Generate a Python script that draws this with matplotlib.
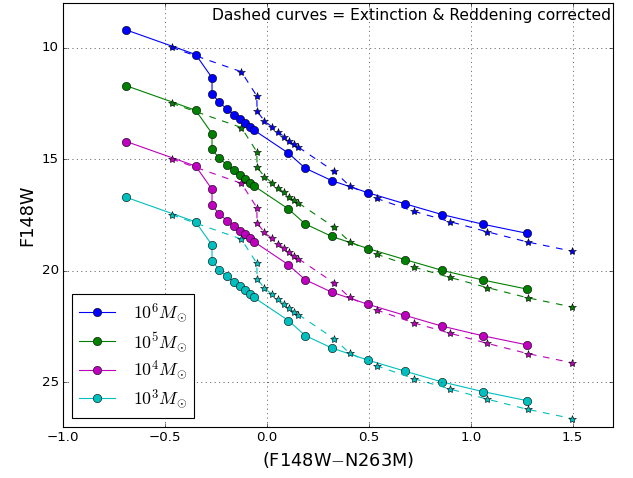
from matplotlib import pyplot as plt

plt.style.use('classic')

# colour of the isochrone points, observed and extinction/reddening corrected
color_obs = [-0.69, -0.35, -0.27, -0.27, -0.235, -0.197, -0.163, -0.134, -0.109, -0.086,
             -0.065, 0.105, 0.187, 0.318, 0.498, 0.678, 0.859, 1.058, 1.276]
color_corr = [-0.468, -0.126, -0.050, -0.049, -0.013, 0.024, 0.056, 0.083, 0.107, 0.130,
              0.154, 0.330, 0.405, 0.539, 0.719, 0.899, 1.080, 1.279, 1.497]

# F148W magnitudes for each cluster mass
mag_1e6 = [9.21, 10.31, 11.35, 12.06, 12.45, 12.75, 13.00, 13.20, 13.37, 13.55,
           13.69, 14.73, 15.40, 15.96, 16.51, 17.00, 17.48, 17.91, 18.32]
mag_1e5 = [11.71, 12.81, 13.85, 14.56, 14.95, 15.25, 15.50, 15.70, 15.87, 16.05,
           16.19, 17.23, 17.90, 18.46, 19.01, 19.50, 19.98, 20.41, 20.82]
mag_1e4 = [14.21, 15.31, 16.35, 17.06, 17.45, 17.75, 18.00, 18.20, 18.37, 18.55,
           18.69, 19.73, 20.40, 20.96, 21.51, 22.00, 22.48, 22.91, 23.32]
mag_1e3 = [16.71, 17.81, 18.85, 19.56, 19.95, 20.25, 20.50, 20.70, 20.87, 21.05,
           21.19, 22.23, 22.90, 23.46, 24.01, 24.50, 24.98, 25.41, 25.82]

mag_corr_1e6 = [9.99, 11.08, 12.17, 12.85, 13.28, 13.55, 13.78, 13.99, 14.18, 14.33,
                14.46, 15.55, 16.19, 16.76, 17.33, 17.80, 18.25, 18.71, 19.12]
mag_corr_1e5 = [12.49, 13.58, 14.67, 15.35, 15.78, 16.05, 16.28, 16.49, 16.68, 16.83,
                16.96, 18.05, 18.69, 19.26, 19.83, 20.30, 20.75, 21.21, 21.62]
mag_corr_1e4 = [14.99, 16.08, 17.17, 17.85, 18.28, 18.55, 18.78, 18.99, 19.18, 19.33,
                19.46, 20.55, 21.19, 21.76, 22.33, 22.80, 23.25, 23.71, 24.12]
mag_corr_1e3 = [17.49, 18.58, 19.67, 20.35, 20.78, 21.05, 21.28, 21.49, 21.68, 21.83,
                21.96, 23.05, 23.69, 24.26, 24.83, 25.30, 25.75, 26.21, 26.62]

labels = [r'$10^6 M_{\odot}$', r'$10^5 M_{\odot}$', r'$10^4 M_{\odot}$', r'$10^3 M_{\odot}$']
colors = ['b', 'g', 'm', 'c']

fig = plt.figure(figsize=(633 / 80, 478 / 80), dpi=80, facecolor='white')
ax = fig.add_axes([0.100, 0.1067, 0.869, 0.887])

obs = [mag_1e6, mag_1e5, mag_1e4, mag_1e3]
corr = [mag_corr_1e6, mag_corr_1e5, mag_corr_1e4, mag_corr_1e3]
for m, mc, c, lab in zip(obs, corr, colors, labels):
    ax.plot(color_obs, m, '-o', color=c, mec='k', ms=7.5, label=lab)
    ax.plot(color_corr, mc, '--*', color=c, mec='k', ms=7.5)

ax.set_xlim(-1.0, 1.7)
ax.set_ylim(27, 8)
ax.set_yticks([10, 15, 20, 25])
ax.grid(True)

ax.set_xlabel(r'(F148W$-$N263M)', fontsize=16)
ax.set_ylabel('F148W', fontsize=16)
ax.text(0.995, 0.988, 'Dashed curves = Extinction & Reddening corrected',
        transform=ax.transAxes, ha='right', va='top', fontsize=14)

ax.legend(loc='lower left', numpoints=1, fontsize=16, labelspacing=0.3,
          handletextpad=1.0)

plt.savefig('out.png', dpi=80, facecolor='white')
